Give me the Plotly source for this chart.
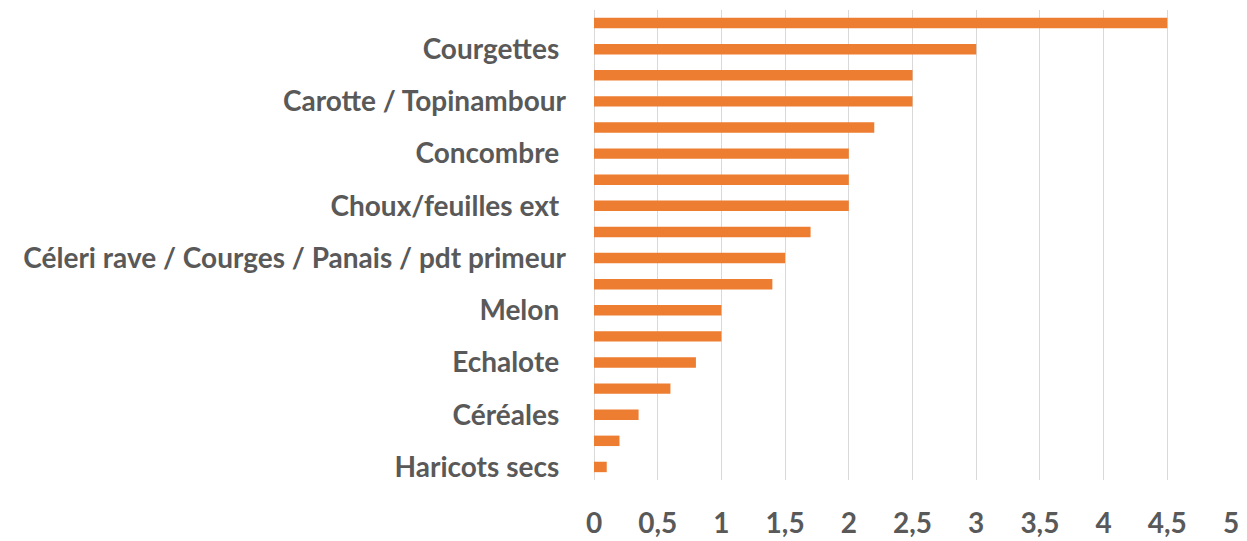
import plotly.graph_objects as go

# bar values, top to bottom (18 bars; only every other one is labelled in the source)
values = [4.5, 3, 2.5, 2.5, 2.2, 2, 2, 2, 1.7, 1.5, 1.4, 1, 1, 0.8, 0.6, 0.35, 0.2, 0.1]

# visible category labels, on bars 2, 4, ..., 18 (from the top)
labels = [
    "Courgettes\u00a0",
    "Carotte / Topinambour",
    "Concombre\u00a0",
    "Choux/feuilles ext\u00a0",
    "Céleri rave / Courges / Panais / pdt primeur",
    "Melon\u00a0",
    "Echalote\u00a0",
    "Céréales\u00a0",
    "Haricots secs\u00a0",
]

FONT = "Lato"
GREY = "#595959"

pos = list(range(len(values)))
tickvals = pos[1::2]

fig = go.Figure(
    go.Bar(
        x=values,
        y=pos,
        orientation="h",
        width=0.4,
        marker=dict(color="#ED7D31", line=dict(width=0)),
    )
)

# page body has an 8px default margin, so the figure is sized 8px smaller
fig.update_layout(
    width=1239,
    height=533,
    margin=dict(l=586, r=16, t=2, b=61),
    plot_bgcolor="white",
    paper_bgcolor="white",
    separators=", ",
    showlegend=False,
    font=dict(family=FONT, color=GREY, size=28),
)
fig.update_xaxes(
    range=[0, 5],
    dtick=0.5,
    tick0=0,
    automargin=False,
    showgrid=True,
    gridcolor="#d9d9d9",
    gridwidth=1,
    zeroline=True,
    zerolinecolor="#d9d9d9",
    zerolinewidth=1,
    showline=False,
    ticks="",
    ticklabelstandoff=24,
    tickfont=dict(family=FONT, size=28, color=GREY, weight="bold"),
)
fig.update_yaxes(
    range=[len(values) - 0.5, -0.5],
    automargin=False,
    tickvals=tickvals,
    ticktext=labels,
    showgrid=False,
    zeroline=False,
    showline=False,
    ticks="",
    ticklabelstandoff=27,
    tickfont=dict(family=FONT, size=28, color=GREY, weight="bold"),
)

fig.write_html("out.html")
